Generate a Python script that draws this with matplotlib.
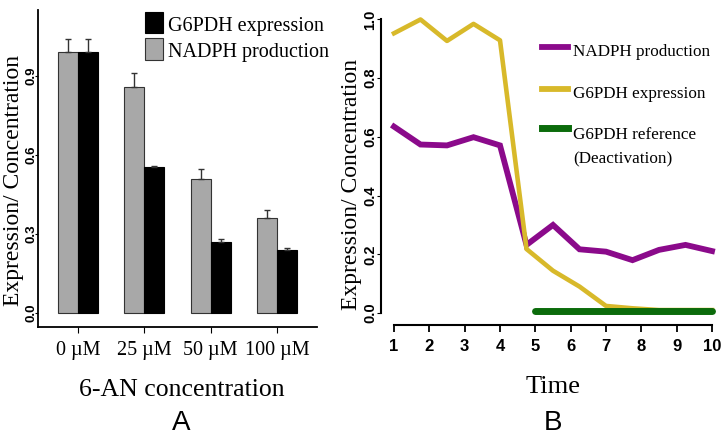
import numpy as np
import matplotlib.pyplot as plt
from matplotlib import font_manager
from matplotlib.patches import Rectangle
from matplotlib.lines import Line2D

W, H = 722, 437
SERIF = 'Liberation Serif'
SANS = 'Liberation Sans'


def pick_font(names, weight='bold'):
    for n in names:
        try:
            font_manager.findfont(font_manager.FontProperties(family=n, weight=weight),
                                  fallback_to_default=False)
            return n
        except ValueError:
            continue
    return names[-1]


NARROW = pick_font(['Liberation Sans Narrow', 'DejaVu Sans Condensed', 'Liberation Sans'])

# panel A: bars at each 6-AN concentration
conc_labels = ['0 µM', '25 µM', '50 µM', '100 µM']
nadph_bar = [0.99, 0.857, 0.509, 0.36]
nadph_err = [0.05, 0.053, 0.04, 0.03]
g6pdh_bar = [0.99, 0.556, 0.271, 0.239]
g6pdh_err = [0.05, 0.003, 0.01, 0.008]

# panel B: time course
time = [1, 1.75, 2.5, 3.25, 4, 4.75, 5.5, 6.25, 7, 7.75, 8.5, 9.25, 10]
nadph_line = [0.635, 0.574, 0.571, 0.599, 0.571, 0.232, 0.30, 0.217, 0.209,
              0.18, 0.215, 0.232, 0.211]
g6pdh_line = [0.953, 1.0, 0.927, 0.985, 0.929, 0.218, 0.144, 0.09, 0.024,
              0.016, 0.01, 0.01, 0.01]
ref_time = [5, 10]
ref_line = [0.008, 0.008]

PURPLE = '#8b0a8b'
GOLD = '#d8b92a'
GREEN = '#0b6b0b'
GRAY = '#a8a8a8'


def fx(px):
    return px / W


def fy(py):
    return 1 - py / H


fig = plt.figure(figsize=(W / 100, H / 100), dpi=100)

# ---- panel A ----
ax1 = fig.add_axes([fx(38), fy(327), 279 / W, 317 / H])
x = np.arange(len(conc_labels))
w = 0.3
ax1.bar(x - w / 2, nadph_bar, w, color=GRAY, edgecolor='#333333', linewidth=0.8)
ax1.bar(x + w / 2, g6pdh_bar, w, color='black', edgecolor='black', linewidth=0.8)
ax1.errorbar(x - w / 2, nadph_bar, yerr=[np.zeros(4), nadph_err], fmt='none',
             ecolor='#333333', elinewidth=1, capsize=2)
ax1.errorbar(x + w / 2, g6pdh_bar, yerr=[np.zeros(4), g6pdh_err], fmt='none',
             ecolor='#333333', elinewidth=1, capsize=2)
ax1.set_xlim(-0.6, 3.6)
ax1.set_ylim(-0.053, 1.151)
for s in ['top', 'right']:
    ax1.spines[s].set_visible(False)
for s in ['left', 'bottom']:
    ax1.spines[s].set_linewidth(1.3)
ax1.set_yticks([0, 0.3, 0.6, 0.9], ['0.0', '0.3', '0.6', '0.9'])
ax1.tick_params(axis='y', length=2, pad=-1.5, labelrotation=90, labelsize=9.5)
for t in ax1.get_yticklabels():
    t.set_fontfamily(SANS)
    t.set_fontweight('bold')
    t.set_va('center')
ax1.set_xticks(x, conc_labels)
ax1.tick_params(axis='x', length=4, pad=6, labelsize=14.5)
for t in ax1.get_xticklabels():
    t.set_fontfamily(SERIF)

# legend A
fig.patches.append(Rectangle((fx(145), fy(33)), 18 / W, 21 / H, transform=fig.transFigure,
                             facecolor='black', edgecolor='black', lw=0.8))
fig.patches.append(Rectangle((fx(145), fy(60)), 18 / W, 22 / H, transform=fig.transFigure,
                             facecolor=GRAY, edgecolor='#333333', lw=0.8))
fig.text(fx(168), fy(27), 'G6PDH expression', family=SERIF, size=14.5, va='center')
fig.text(fx(168), fy(52), 'NADPH production', family=SERIF, size=14.5, va='center')

fig.text(fx(14), fy(180), 'Expression/ Concentration', family=SERIF, size=17,
         rotation=90, ha='center', va='center')
fig.text(fx(182), fy(390), '6-AN concentration', family=SERIF, size=18.5,
         ha='center', va='center')
fig.text(fx(181), fy(423), 'A', family=SANS, size=20, ha='center', va='center')

# ---- panel B ----
ax2 = fig.add_axes([fx(381), fy(325), (716 - 381) / W, 310 / H])
ax2.plot(time, nadph_line, color=PURPLE, lw=4.2, solid_joinstyle='miter')
ax2.plot(time, g6pdh_line, color=GOLD, lw=3.3)
ax2.plot(ref_time, ref_line, color=GREEN, lw=5, solid_capstyle='round')
ax2.set_xlim(0.632, 10.113)
ax2.set_ylim(-0.0409, 1.0153)
for s in ['top', 'right']:
    ax2.spines[s].set_visible(False)
ax2.spines['left'].set_bounds(0, 1)
ax2.spines['bottom'].set_bounds(1, 10)
for s in ['left', 'bottom']:
    ax2.spines[s].set_linewidth(1.5)
yt = [0, 0.2, 0.4, 0.6, 0.8, 1.0]
ax2.set_yticks(yt, [f'{v:.1f}' for v in yt])
ax2.tick_params(axis='y', length=3, pad=-0.5, labelrotation=90, labelsize=10.5)
for t in ax2.get_yticklabels():
    t.set_fontfamily(SANS)
    t.set_fontweight('bold')
    t.set_va('center')
ax2.set_xticks(range(1, 11))
ax2.tick_params(axis='x', length=5, width=1.3, pad=5, labelsize=12)
for t in ax2.get_xticklabels():
    t.set_fontfamily(NARROW)
    t.set_fontweight('bold')

# legend B
leg_items = [(47, 52, 'NADPH production', PURPLE, 4.2),
             (89, 94, 'G6PDH expression', GOLD, 4.2),
             (128, 135, 'G6PDH reference', GREEN, 5)]
for py, ty, label, c, lw in leg_items:
    fig.lines.append(Line2D([fx(542), fx(568)], [fy(py), fy(py)], transform=fig.transFigure,
                            color=c, lw=lw))
    fig.text(fx(573), fy(ty), label, family=SERIF, size=12.3, va='center')
fig.text(fx(573), fy(159), '(Deactivation)', family=SERIF, size=12.3, va='center')

fig.text(fx(352), fy(184), 'Expression/ Concentration', family=SERIF, size=17,
         rotation=90, ha='center', va='center')
fig.text(fx(553), fy(387), 'Time', family=SERIF, size=19, ha='center', va='center')
fig.text(fx(553), fy(423), 'B', family=SANS, size=20, ha='center', va='center')

fig.savefig('out.png', dpi=100)
